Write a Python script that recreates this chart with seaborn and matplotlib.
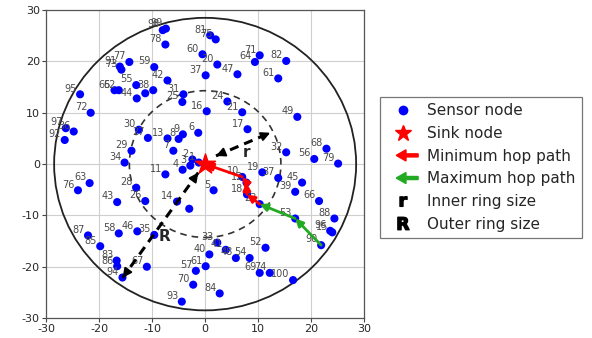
import numpy as np
import pandas as pd
import matplotlib
matplotlib.use("Agg")
import matplotlib.pyplot as plt
import seaborn as sns
from matplotlib.lines import Line2D
from matplotlib.patches import FancyArrow, Circle
from matplotlib.legend_handler import HandlerBase

# ---------------- data ----------------
labels = ["1", "2", "3", "4", "5", "6", "7", "8", "9", "10",
          "11", "12", "13", "14", "15", "16", "17", "18", "19", "20",
          "21", "23", "24", "25", "26", "27", "28", "29", "30", "31",
          "32", "33", "34", "35", "36", "37", "38", "39", "40", "41",
          "42", "43", "44", "45", "46", "47", "48", "49", "52", "53",
          "54", "55", "56", "57", "58", "59", "60", "61", "62", "63",
          "64", "65", "66", "67", "68", "69", "70", "71", "72", "73",
          "74", "75", "76", "77", "78", "79", "81", "82", "83", "84",
          "85", "86", "87", "88", "90", "91", "92", "93", "94", "95",
          "96", "97", "98", "99", "100", "61", "37", "", ""]
xs = [-1.2, -2.4, -2.8, -4.25, 1.6, -1.3, -6.0, -5.0, -4.2, 7.0,
      -7.5, 7.8, -7.1, -5.3, 24.0, 0.3, 8.0, 7.9, 10.8, 2.3,
      7.0, 10.3, 4.2, -4.3, -11.3, -10.8, -13.0, -13.9, -12.5, -4.1,
      15.3, 2.3, -15.2, -9.6, -24.8, 0.1, -9.8, 17.0, 0.8, 3.9,
      -7.1, -16.6, -12.9, 18.3, -12.8, 6.1, 5.8, 17.4, 11.4, 17.0,
      8.4, -13.0, 20.6, -1.75, -16.3, -9.6, -0.5, 13.8, -16.3, -21.8,
      9.4, -17.1, 21.5, -11.0, 22.9, 10.3, -2.25, 10.3, -21.6, -15.8,
      12.2, 2.0, -24.0, -14.3, -7.5, 25.1, 0.95, 15.3, -16.7, 2.75,
      -19.8, -16.6, -22.1, 24.4, 21.9, -16.1, -26.5, -4.4, -15.6, -23.6,
      23.6, -26.3, -8.0, -7.4, 16.6, 0.1, 13.8, -3.0, -11.3]
ys = [0.3, 0.9, -0.3, -1.1, -5.1, 6.1, 2.6, 4.9, 5.8, -2.5,
      -2.0, -3.6, 5.0, -7.3, -13.3, 10.3, 6.8, -5.9, -1.6, 19.4,
      10.1, -7.8, 12.2, 12.1, -7.2, 5.1, -4.6, 2.6, 6.7, 13.6,
      2.3, -15.3, 0.3, -13.8, 6.35, 17.3, 14.4, -5.4, -17.6, -16.7,
      16.3, -7.4, 12.8, -3.6, -13.1, 17.5, -18.3, 9.2, -16.3, -10.6,
      -18.3, 15.4, 1.0, -20.8, -13.5, 18.9, 21.4, 16.7, 14.4, -3.7,
      19.9, 14.4, -7.2, -20.0, 3.0, -21.2, -23.5, 21.2, 10.0, 18.4,
      -21.2, 24.3, -5.1, 19.9, 23.3, 0.1, 25.1, 20.1, -18.8, -25.2,
      -16.0, -19.9, -13.9, -10.6, -15.8, 19.0, 4.7, -26.8, -22.1, 13.6,
      -13.0, 7.0, 26.1, 26.4, -22.6, -19.9, -2.7, -8.7, 13.8]

sink = (0.0, 0.0)
min_hop_path = ["23", "18", "12", "10"]     # ends at sink
max_hop_path = ["90", "53", "23"]           # then continues along min path
r_inner = 14.3
R_outer = 28.5

legend_labels = ["Sensor node", "Sink node", "Minimum hop path",
                 "Maximum hop path", "Inner ring size", "Outer ring size"]
ticks = [-30, -20, -10, 0, 10, 20, 30]

df = pd.DataFrame({"x": xs, "y": ys, "label": labels})

# ---------------- style ----------------
sns.set_style("ticks")
plt.rcParams["font.family"] = ["DejaVu Sans"]
plt.rcParams["axes.unicode_minus"] = False

fig = plt.figure(figsize=(5.92, 3.38), dpi=100)
ax = fig.add_axes([0.078, 0.059, 0.537, 0.911])

ax.set_xlim(-30, 30)
ax.set_ylim(-30, 30)
ax.set_xticks(ticks)
ax.set_yticks(ticks)
ax.tick_params(labelsize=8, length=3, width=0.8, color="#444444", pad=1.5)
ax.grid(True, color="#cfcfcf", lw=0.8)
ax.set_axisbelow(True)
for s in ax.spines.values():
    s.set_color("#555555")
    s.set_linewidth(0.9)

# rings
ax.add_patch(Circle(sink, R_outer, fill=False, ec="#222222", lw=1.3, zorder=1))
ax.add_patch(Circle(sink, r_inner, fill=False, ec="#333333", lw=1.2,
                    ls=(0, (4, 3)), zorder=1))

# sensor nodes
sns.scatterplot(data=df, x="x", y="y", ax=ax, color="#0000ff", s=34,
                edgecolor="none", legend=False, zorder=3)
ax.set_xlabel("")
ax.set_ylabel("")
for lab, x, y in zip(labels, xs, ys):
    if lab:
        ax.annotate(lab, (x, y), xytext=(-2.5, 0.5), textcoords="offset points",
                    ha="right", va="bottom", fontsize=7, color="#4a4a4a", zorder=4)

pos = {lab: (x, y) for lab, x, y in zip(labels, xs, ys) if lab}

def draw_arrow(p0, p1, color, lw=2.0, ms=11):
    ax.annotate("", xy=p1, xytext=p0,
                arrowprops=dict(arrowstyle="-|>", color=color, lw=lw,
                                mutation_scale=ms, shrinkA=0, shrinkB=0),
                zorder=5)

# max hop path (green)
gpts = [pos[k] for k in max_hop_path]
for a, b in zip(gpts[:-1], gpts[1:]):
    draw_arrow(a, b, "#22aa22")
# min hop path (red)
rpts = [pos[k] for k in min_hop_path] + [sink]
for a, b in zip(rpts[:-1], rpts[1:]):
    draw_arrow(a, b, "#ff0000")

# sink
ax.scatter([sink[0]], [sink[1]], marker="*", s=230, color="#ff0000", zorder=6)

# ring-size arrows
def polar(rad, ang):
    return (rad * np.cos(np.radians(ang)), rad * np.sin(np.radians(ang)))

def dbl_arrow(p0, p1):
    ax.plot([p0[0], p1[0]], [p0[1], p1[1]], color="black", lw=2.2,
            ls=(0, (3, 2)), zorder=5)
    for a, b in ((p0, p1), (p1, p0)):
        d = np.array(b) - np.array(a)
        tail = np.array(b) - d / np.linalg.norm(d) * 1.5
        ax.annotate("", xy=b, xytext=tuple(tail),
                    arrowprops=dict(arrowstyle="-|>", color="black", lw=1.5,
                                    mutation_scale=13, shrinkA=0, shrinkB=0),
                    zorder=6)

dbl_arrow(polar(2.6, 38), polar(r_inner * 0.96, 26.4))
dbl_arrow(polar(2.1, 232), polar(R_outer * 0.95, 234.9))
ax.text(7.8, 2.3, "r", fontsize=11, fontweight="bold", ha="center",
        va="center", zorder=6)
ax.text(-7.7, -14.2, "R", fontsize=11, fontweight="bold", ha="center",
        va="center", zorder=6)

# ---------------- legend ----------------
class HandlerArrow(HandlerBase):
    def create_artists(self, legend, orig_handle, xdescent, ydescent,
                       width, height, fontsize, trans):
        c = orig_handle.get_color()
        y = height / 2 - ydescent
        p = FancyArrow(width * 0.95, y, -width * 0.65, 0, width=2.2,
                       head_width=8, head_length=7, color=c,
                       length_includes_head=True, transform=trans)
        return [p]

h_sensor = Line2D([], [], marker="o", color="#0000ff", ls="", markersize=6)
h_sink = Line2D([], [], marker="*", color="#ff0000", ls="", markersize=12)
h_min = Line2D([], [], color="#ff0000")
h_max = Line2D([], [], color="#22aa22")
h_r = Line2D([], [], marker=r"$\mathbf{r}$", color="black", ls="", markersize=7)
h_R = Line2D([], [], marker=r"$\mathbf{R}$", color="black", ls="", markersize=9)

leg = fig.legend([h_sensor, h_sink, h_min, h_max, h_r, h_R], legend_labels,
                 handler_map={h_min: HandlerArrow(), h_max: HandlerArrow()},
                 loc="upper left", bbox_to_anchor=(0.642, 0.712),
                 frameon=True, fancybox=False, fontsize=11,
                 handlelength=2.2, handletextpad=0.5, labelspacing=0.5,
                 borderpad=0.4, borderaxespad=0)
leg.get_frame().set_edgecolor("#555555")
leg.get_frame().set_linewidth(0.9)

fig.savefig("out.png", dpi=100)
